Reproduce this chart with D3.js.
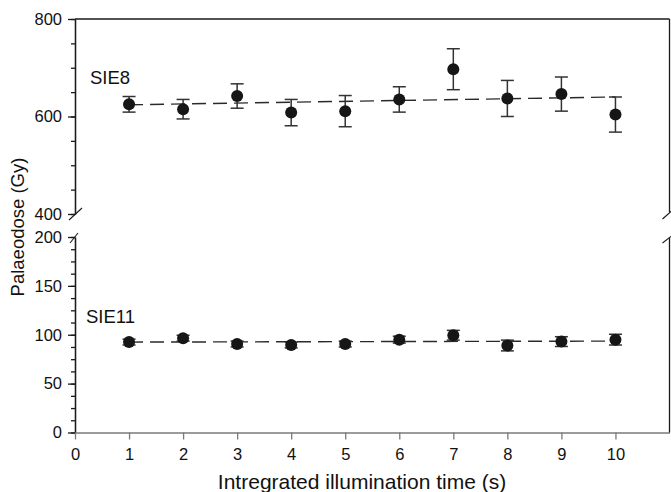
<!DOCTYPE html>
<html>
<head>
<meta charset="utf-8">
<script src="https://cdn.jsdelivr.net/npm/d3@7"></script>
<style>
  body { margin: 0; background: #fff; }
  svg text { font-family: "Liberation Sans", Arial, sans-serif; fill: #111; }
</style>
</head>
<body>
<div id="chart"></div>
<script>
// illumination times (s)
const times = [1, 2, 3, 4, 5, 6, 7, 8, 9, 10];

// SIE8 palaeodose and error (Gy)
const sie8 = [625, 615, 642, 608, 611, 635, 697, 637, 646, 604];
const sie8Err = [16, 20, 25, 27, 32, 26, 42, 37, 35, 36];
const sie8Fit = [624, 640]; // at t=1 and t=10

// SIE11 palaeodose and error (Gy)
const sie11 = [92.5, 96.5, 90.5, 89.5, 90.5, 95, 99.5, 89, 93, 95];
const sie11Err = [3, 3, 3, 3, 3, 3.5, 5, 5.5, 5, 5.5];
const sie11Fit = [92.5, 93.5];

const xTicks = [0, 1, 2, 3, 4, 5, 6, 7, 8, 9, 10];
const topTicks = [400, 600, 800];
const botTicks = [0, 50, 100, 150, 200];

const W = 671, H = 492;
const left = 75, right = 669.5;

const svg = d3.select("#chart").append("svg")
    .attr("width", W)
    .attr("height", H);

const x = d3.scaleLinear().domain([0, 11]).range([left, right]);
const yTop = d3.scaleLinear().domain([400, 800]).range([214, 19]);
const yBot = d3.scaleLinear().domain([0, 200]).range([432.5, 237]);

const frame = "#1a1a1a";

function styleAxis(g, col) {
  g.selectAll("path").attr("stroke", col).attr("stroke-width", 1.3);
  g.selectAll("line").attr("stroke", col).attr("stroke-width", 1.3);
  g.selectAll("text").attr("font-size", 16.5).attr("fill", "#111")
    .attr("font-family", "Liberation Sans, Arial, sans-serif");
}

// ---- left axes
const gTopMinor = svg.append("g").attr("transform", `translate(${left},0)`)
  .call(d3.axisLeft(yTop).tickValues(d3.range(400, 801, 50)).tickSize(4).tickFormat("").tickSizeOuter(0));
styleAxis(gTopMinor, frame);
const gTop = svg.append("g").attr("transform", `translate(${left},0)`)
  .call(d3.axisLeft(yTop).tickValues(topTicks).tickSize(7).tickPadding(6).tickSizeOuter(0));
styleAxis(gTop, frame);

const gBotMinor = svg.append("g").attr("transform", `translate(${left},0)`)
  .call(d3.axisLeft(yBot).tickValues(d3.range(0, 201, 12.5)).tickSize(4).tickFormat("").tickSizeOuter(0));
styleAxis(gBotMinor, frame);
const gBot = svg.append("g").attr("transform", `translate(${left},0)`)
  .call(d3.axisLeft(yBot).tickValues(botTicks).tickSize(7).tickPadding(6).tickSizeOuter(0));
styleAxis(gBot, frame);

// ---- x axis (gray)
const gx = svg.append("g").attr("transform", `translate(0,${yBot(0)})`)
  .call(d3.axisBottom(x).tickValues(xTicks).tickSize(7).tickPadding(9).tickSizeOuter(0));
styleAxis(gx, "#7a7a7a");

// ---- frame: top line and right side
svg.append("line").attr("x1", left).attr("x2", right).attr("y1", yTop(800)).attr("y2", yTop(800))
  .attr("stroke", frame).attr("stroke-width", 1.3);
svg.append("line").attr("x1", right).attr("x2", right).attr("y1", yTop(800)).attr("y2", yTop(400) - 2)
  .attr("stroke", frame).attr("stroke-width", 1.3);
svg.append("line").attr("x1", right).attr("x2", right).attr("y1", yBot(200) + 1).attr("y2", yBot(0))
  .attr("stroke", frame).attr("stroke-width", 1.3);

// ---- break marks
const breaks = [
  [left - 6, yTop(400) + 6, left + 7, yTop(400) - 6],
  [left - 5, yBot(200) + 6, left + 3, yBot(200) - 4],
  [right - 7, yTop(400) + 5, right + 2, yTop(400) - 3],
  [right - 7, yBot(200) + 6, right + 2, yBot(200) - 1]
];
svg.selectAll(".brk").data(breaks).enter().append("line")
  .attr("class", "brk")
  .attr("x1", d => d[0]).attr("y1", d => d[1])
  .attr("x2", d => d[2]).attr("y2", d => d[3])
  .attr("stroke", frame).attr("stroke-width", 1.1);

// ---- series
function drawSeries(vals, errs, fit, y) {
  const g = svg.append("g");
  g.append("line")
    .attr("x1", x(times[0])).attr("x2", x(times[times.length - 1]))
    .attr("y1", y(fit[0])).attr("y2", y(fit[1]))
    .attr("stroke", "#2a2a2a").attr("stroke-width", 1.4)
    .attr("stroke-dasharray", "14,7");

  const pts = times.map((t, i) => ({t: t, v: vals[i], e: errs[i]}));
  const eb = g.selectAll(".eb").data(pts).enter().append("g").attr("class", "eb")
    .attr("stroke", "#333").attr("stroke-width", 1.5);
  eb.append("line")
    .attr("x1", d => x(d.t)).attr("x2", d => x(d.t))
    .attr("y1", d => y(d.v + d.e)).attr("y2", d => y(d.v - d.e));
  eb.append("line")
    .attr("x1", d => x(d.t) - 6.5).attr("x2", d => x(d.t) + 6.5)
    .attr("y1", d => y(d.v + d.e)).attr("y2", d => y(d.v + d.e));
  eb.append("line")
    .attr("x1", d => x(d.t) - 6.5).attr("x2", d => x(d.t) + 6.5)
    .attr("y1", d => y(d.v - d.e)).attr("y2", d => y(d.v - d.e));

  g.selectAll(".pt").data(pts).enter().append("circle").attr("class", "pt")
    .attr("cx", d => x(d.t)).attr("cy", d => y(d.v))
    .attr("r", 6).attr("fill", "#161616");
}
drawSeries(sie8, sie8Err, sie8Fit, yTop);
drawSeries(sie11, sie11Err, sie11Fit, yBot);

// ---- labels
svg.append("text").attr("x", 90).attr("y", 84).attr("font-size", 18.5).text("SIE8");
svg.append("text").attr("x", 86).attr("y", 323).attr("font-size", 18.5).text("SIE11");

svg.append("text")
  .attr("transform", `translate(24,${227}) rotate(-90)`)
  .attr("text-anchor", "middle")
  .attr("font-size", 18.5)
  .text("Palaeodose (Gy)");

svg.append("text")
  .attr("x", 362).attr("y", 489)
  .attr("text-anchor", "middle")
  .attr("font-size", 21)
  .text("Intregrated illumination time (s)");
</script>
</body>
</html>
